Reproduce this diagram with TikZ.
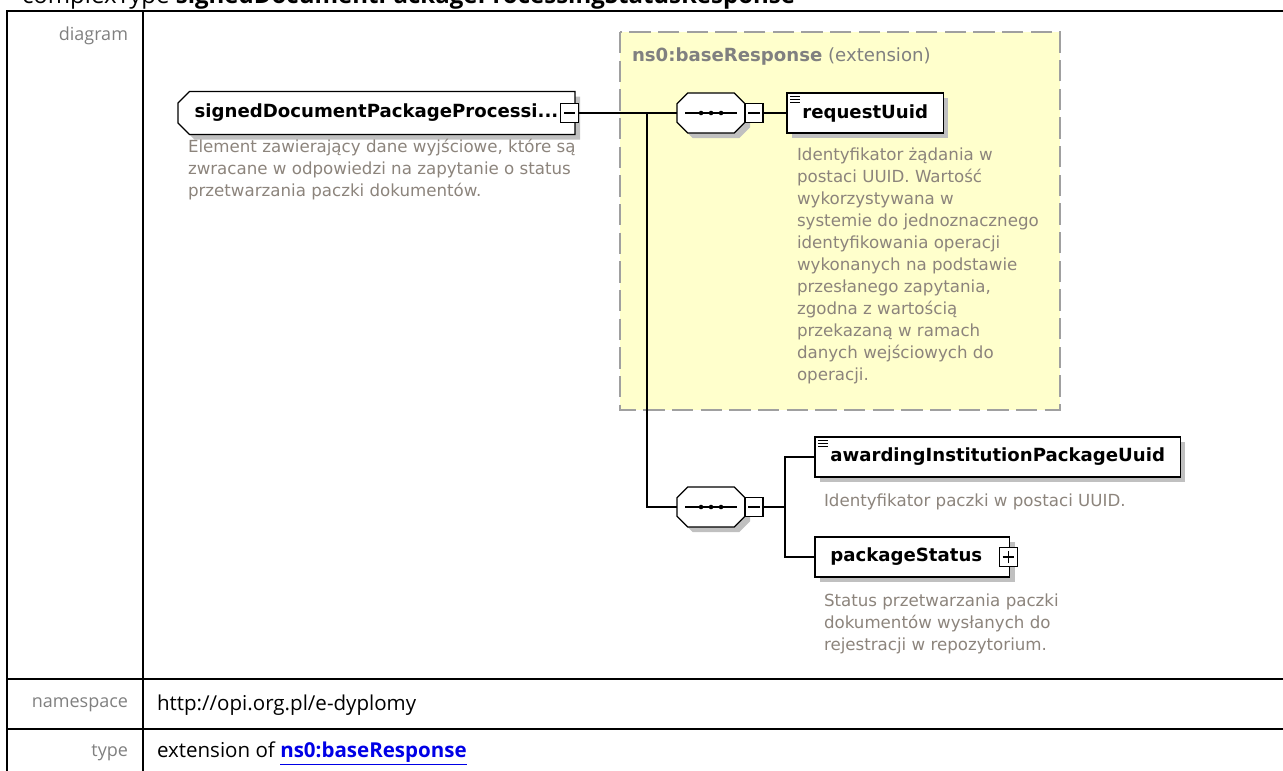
\documentclass[tikz,border=0pt]{standalone}
\usepackage{fontspec}
\setmainfont{Open Sans}
\newfontfamily\verd{DejaVu Sans}
\usetikzlibrary{shapes.misc, shadows, positioning}

\definecolor{labelgray}{RGB}{128,128,128}
\definecolor{descgray}{RGB}{140,132,124}
\definecolor{extfill}{RGB}{255,255,204}
\definecolor{extdash}{RGB}{160,160,160}
\definecolor{shadowgray}{RGB}{192,192,192}
\definecolor{linkblue}{RGB}{0,0,230}

\begin{document}
\begin{tikzpicture}[
    x=0.75pt, y=-0.75pt,
    every node/.style={inner sep=0pt, outer sep=0pt},
    grid/.style={line width=1.5pt},
    lbl/.style={anchor=east, text=labelgray, font=\fontsize{13.5}{16}\selectfont},
    val/.style={anchor=west, font=\fontsize{15.4}{18}\selectfont},
    elname/.style={font=\verd\bfseries\fontsize{13.6}{16}\selectfont},
    shade/.style={drop shadow={shadow xshift=3.75pt, shadow yshift=-3.75pt,
                  fill=shadowgray, opacity=1}},
    elem/.style={rectangle, draw, fill=white, line width=0.9pt, anchor=north west,
                 minimum height=30pt, inner xsep=11.5pt, elname, shade},
    leaf/.style={elem, path picture={
        \foreach \dy in {2.2pt,4.6pt,7pt}
          \draw[line width=0.6pt] ([shift={(2.5pt,-\dy)}]path picture bounding box.north west)
            -- ++(7pt,0);}},
    glob/.style={chamfered rectangle, chamfered rectangle corners={north west, south west},
                 chamfered rectangle xsep=5pt, draw, fill=white, line width=0.9pt,
                 anchor=west, minimum width=297.75pt, minimum height=32.25pt,
                 elname, shade},
    seq/.style={chamfered rectangle, chamfered rectangle angle=45,
                chamfered rectangle xsep=4pt, chamfered rectangle ysep=4pt,
                draw, fill=white, line width=0.9pt, anchor=west, shade,
                node contents={\rule{43pt}{0pt}\rule{0pt}{22pt}}, path picture={
        \draw[black, line width=0.9pt] ([xshift=-19.5pt]path picture bounding box.center)
          -- ([xshift=19.5pt]path picture bounding box.center);
        \foreach \dx in {-7.5pt,0pt,7.5pt}
          \fill[black] ([xshift=\dx]path picture bounding box.center) circle (1.7pt);}},
    tog/.style={rectangle, draw, fill=white, line width=0.9pt, minimum width=13.5pt,
                minimum height=14pt, path picture={
        \draw[black] ([xshift=2.5pt]path picture bounding box.west)
          -- ([xshift=-2.5pt]path picture bounding box.east);}},
    plus/.style={tog, path picture={
        \draw[black] ([xshift=2.5pt]path picture bounding box.west)
          -- ([xshift=-2.5pt]path picture bounding box.east);
        \draw[black] ([yshift=2.5pt]path picture bounding box.south)
          -- ([yshift=-2.5pt]path picture bounding box.north);}},
    desc/.style={anchor=north west, align=left, text=descgray,
                 font=\verd\fontsize{12.5}{16.5}\selectfont},
    conn/.style={line width=1pt}
  ]

  \useasboundingbox (0,0) rectangle (1283,771);

  %% page heading and table
  \node[anchor=base west, font=\fontsize{18}{22}\selectfont] (head) at (22,3)
       {complexType \textbf{signedDocumentPackageProcessingStatusResponse}};

  \draw[grid] (7,771) -- (7,10.5) -- (1283,10.5);
  \draw[grid] (143,10.5) -- (143,771);
  \draw[grid] (7,679) -- (1283,679);
  \draw[grid] (7,729) -- (1283,729);

  \node[lbl] (ldia) at (128,36)  {diagram};
  \node[lbl] (lns)  at (128,705) {namespace};
  \node[lbl] (ltyp) at (128,753) {type};
  \node[val] (vns)  at (157,705) {http://opi.org.pl/e-dyplomy};
  \node[val] (vtyp) at (157,753)
       {extension of \textcolor{linkblue}{\textbf{\underline{ns0:baseResponse}}}};

  %% extension area
  \draw[fill=extfill, draw=extdash, line width=1.5pt, dash pattern=on 16pt off 5.5pt]
       (620,32) rectangle (1060,410);
  \node[anchor=west, text=labelgray, font=\verd\fontsize{13.6}{16}\selectfont] (ext)
       at (632,56) {\textbf{ns0:baseResponse} (extension)};

  %% root element
  \node[glob] (root) at (178,113) {signedDocumentPackageProcessi...};
  \node[tog] (tog0) at ([xshift=-4pt]root.east) {};
  \node[desc] (droot) at (188,139)
       {Element zawierający dane wyjściowe, które są\\
        zwracane w odpowiedzi na zapytanie o status\\
        przetwarzania paczki dokumentów.};

  %% first sequence
  \node (seq1) at (677,113) [seq];
  \node[tog, right=0pt of seq1] (tog1) {};
  \node[leaf] (req) at (787,93) {requestUuid};
  \node[desc] (dreq) at (797,148)
       {Identyfikator żądania w\\
        postaci UUID. Wartość\\
        wykorzystywana w\\
        systemie do jednoznacznego\\
        identyfikowania operacji\\
        wykonanych na podstawie\\
        przesłanego zapytania,\\
        zgodna z wartością\\
        przekazaną w ramach\\
        danych wejściowych do\\
        operacji.};

  %% second sequence
  \node (seq2) at (677,507) [seq];
  \node[tog, right=0pt of seq2] (tog2) {};
  \node[leaf] (awd) at (815,437) {awardingInstitutionPackageUuid};
  \node[desc] (dawd) at (824,494) {Identyfikator paczki w postaci UUID.};
  \node[elem] (pkg) at (815,537) {packageStatus\hspace*{9pt}};
  \node[plus] (tog3) at ([xshift=-1pt]pkg.east) {};
  \node[desc] (dpkg) at (824,594)
       {Status przetwarzania paczki\\
        dokumentów wysłanych do\\
        rejestracji w repozytorium.};

  %% connectors
  \coordinate (fork) at (647,113);
  \coordinate (bus)  at (785,507);
  \draw[conn] (tog0.east) -- (seq1.west);
  \draw[conn] (fork) |- (seq2.west);
  \draw[conn] (tog1.east) -- (req.west);
  \draw[conn] (tog2.east) -- (bus) |- (awd.west);
  \draw[conn] (bus) |- (pkg.west);

\end{tikzpicture}
\end{document}
